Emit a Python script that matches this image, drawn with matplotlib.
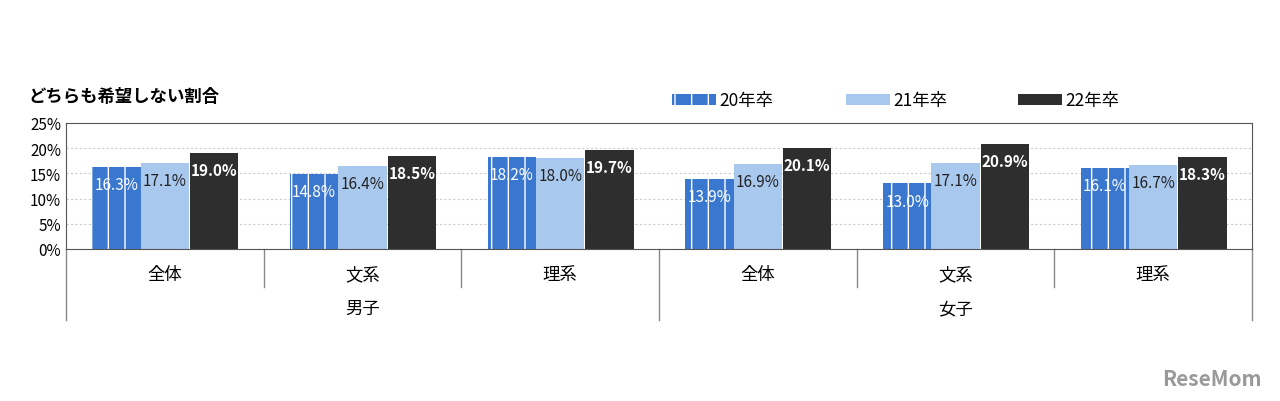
import matplotlib
matplotlib.use("Agg")
import matplotlib.pyplot as plt
import numpy as np
from matplotlib.patches import Rectangle

plt.rcParams['font.family'] = ['Noto Sans CJK JP', 'DejaVu Sans']
plt.rcParams['hatch.color'] = 'white'
plt.rcParams['hatch.linewidth'] = 1.0

subcats = ['全体', '文系', '理系', '全体', '文系', '理系']
groups = ['男子', '女子']
series = ['20年卒', '21年卒', '22年卒']
v20 = [16.3, 14.8, 18.2, 13.9, 13.0, 16.1]
v21 = [17.1, 16.4, 18.0, 16.9, 17.1, 16.7]
v22 = [19.0, 18.5, 19.7, 20.1, 20.9, 18.3]
colors = ['#3A78D0', '#A9C8EE', '#2E2E2E']

fig = plt.figure(figsize=(12.8, 4.02), dpi=100)
ax = fig.add_axes([66/1280, 1-250/402, (1252-66)/1280, 126/402])
x = np.arange(len(subcats)) + 0.5
w = 0.245
offs = [-0.245, 0.0, 0.25]
for vals, off, c, lab, h in zip([v20, v21, v22], offs, colors, series, ['|', None, None]):
    bars = ax.bar(x + off, vals, w, color=c, hatch=h, linewidth=0, label=lab)
    for b, v in zip(bars, vals):
        tc = '#222222' if c == '#A9C8EE' else 'white'
        ax.text(b.get_x() + b.get_width()/2, v - 1.8, f'{v:.1f}%', ha='center', va='top',
                color=tc, fontsize=11, fontweight='bold' if c == '#2E2E2E' else 'normal')
ax.set_xlim(0, 6)
ax.set_ylim(0, 25)
ax.set_yticks(range(0, 26, 5))
ax.set_yticklabels([f'{t}%' for t in range(0, 26, 5)], fontsize=11)
ax.yaxis.grid(True, color='#cccccc', linestyle=(0, (2, 2)), linewidth=0.8)
ax.set_axisbelow(True)
ax.set_xticks([])
ax.tick_params(axis='y', length=0)
for s in ax.spines.values():
    s.set_color('#555555')

trans = ax.get_xaxis_transform()
for i, s in enumerate(subcats):
    ax.text(x[i], -0.2, s, transform=trans, ha='center', va='center', fontsize=12.5)
for j, g in enumerate(groups):
    ax.text(1.5 + 3*j, -0.47, g, transform=trans, ha='center', va='center', fontsize=12.5)
for xi in [1, 2, 4, 5]:
    ax.plot([xi, xi], [0, -0.3], transform=trans, color='#888888', lw=1, clip_on=False)
for xi in [0, 3, 6]:
    ax.plot([xi, xi], [0, -0.56], transform=trans, color='#888888', lw=1, clip_on=False)

fig.text(28/1280, 1-97/402, 'どちらも希望しない割合', fontsize=12.5, fontweight='bold', va='center')
lx = [672, 846, 1018]
for px, c, lab, h in zip(lx, colors, series, ['|', None, None]):
    r = Rectangle((px/1280, 1-106/402), 44/1280, 11/402, transform=fig.transFigure,
                  facecolor=c, hatch=h, linewidth=0)
    fig.patches.append(r)
    fig.text((px+47)/1280, 1-101/402, lab, fontsize=12.5, va='center')
fig.text(1262/1280, 1-380/402, 'ReseMom', fontsize=15, fontweight='bold', color='#999999',
         ha='right', va='center')
fig.savefig('out.png', dpi=100)
